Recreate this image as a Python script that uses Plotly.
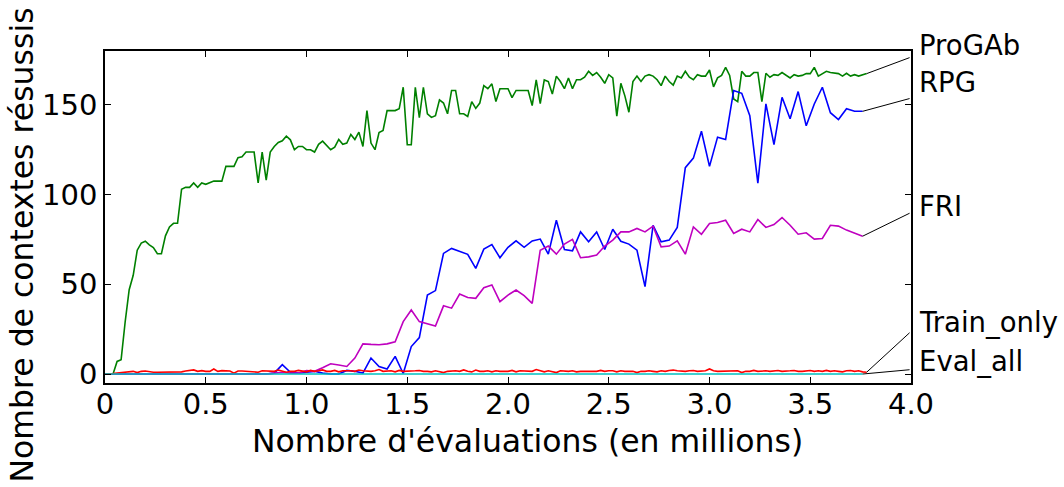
import plotly.graph_objects as go

# Evaluation step (in millions) between two saved points
STEP_DENSE = 0.02
STEP_COARSE = 0.04

progab = [
    0, 0, 0, 7, 8, 29, 47, 55, 69, 73,
    74, 72, 70.5, 67, 67, 77, 82, 84, 84, 103,
    104, 104, 106.5, 104, 106.5, 105.7, 106.5, 107.5, 107.5, 107.5,
    115.7, 115.7, 115.7, 120.5, 121, 123.7, 123.7, 123.7, 106.5, 123.7,
    108, 123.7, 126.8, 129, 130, 132.5, 130.5, 125, 126.8,
    126.8, 125, 125, 123.7, 128, 129.8, 127.4, 125, 126.4,
    130.7, 128, 128.7, 133.5, 130.7, 134.8, 126.8, 146.8, 128.7, 125,
    134.6, 135.7, 146.8, 146.8, 146.8, 147.8, 159.8, 127.8, 127.8, 159.8,
    142.8, 159.8, 145, 143, 144, 152.8, 151, 145, 158, 158,
    145, 145, 143.5, 151.8, 148, 151, 160.7, 159, 161.7,
    151.8, 159, 159, 159, 154, 158, 158, 158, 158,
    149.6, 163.9, 150.7, 163.9, 163, 156, 166, 163, 159, 165,
    159, 164, 164, 165.4, 168.7, 166.4, 168, 165.4, 162,
    166.8, 165, 143.7, 162, 155, 145.9, 163, 166, 163,
    166, 166.8, 166, 164, 160.7, 166, 163, 161, 166,
    165, 168.7, 165.4, 164, 166.8, 166, 166, 169.4, 160, 165,
    166.4, 170.9, 166.4, 153.3, 151.8, 168.7, 166, 166, 168, 168,
    151.8, 167.6, 165.4, 166.8, 166.4, 168, 166.4, 165, 166.8, 166,
    166.4, 167.4, 167.4, 170.9, 166, 167.4, 168.7, 168, 167.8, 167.4,
    166, 167.6, 166, 166.8, 166, 166.8, 167.4,
]

train_only = [
    0, 0, 0.3, 0.6, 0.8, 1, 1, 1.5, 0.8, 1.5,
    1.7, 1.2, 1, 1, 1, 1, 1, 1, 1, 1.2,
    1.7, 1.8, 2.3, 1.5, 1.9, 1.5, 1.5, 2.8, 1.5, 1.9,
    1.9, 1.7, 0.5, 1.7, 1.7, 1.5, 1.5, 1.5, 1, 1.8,
    1.8, 1.8, 1.5, 2.2, 1.5, 1, 1.5, 1.5, 2, 1.5,
    1.2, 2, 1.5, 1.8, 2.3, 1.5, 1.5, 2, 1.2, 1.8,
    2, 1.8, 1.5, 2.2, 1.8, 1.5, 1.5, 1.8, 2.5, 1.5,
    1.5, 1.8, 1.2, 2, 1.5, 1.5, 1.8, 1.8, 2, 1.5,
    1.5, 1.2, 1.8, 1.5, 0.8, 1.5, 1.8, 1.8, 1.5, 2.3,
    1.5, 1.2, 2.2, 1.5, 1.5, 1.8, 1.2, 1.8, 1.5, 1.5,
    1.5, 2, 1.2, 1.8, 1.8, 1.5, 1.5, 2.5, 1.8, 1.2,
    1.8, 1.5, 0.8, 1.8, 1.5, 1.5, 1.8, 1.2, 1.5, 1.5,
    1.8, 1.5, 1.5, 2, 1.5, 1.8, 1.8, 1.2, 1.8, 1.5,
    1.5, 1.5, 0.8, 1.5, 1.5, 1.8, 1.5, 1.2, 1.8, 1.5,
    2, 2.2, 1.8, 1.5, 1.5, 1.8, 2, 1.5, 1.8, 1.8,
    2.8, 1.8, 1.5, 1.5, 1.5, 1.8, 1.5, 1.8, 0.8, 1.5,
    1.5, 2, 1.5, 1.8, 1.8, 1.5, 1.8, 2, 1.5, 1.5,
    1.8, 2, 1.5, 1.5, 1.8, 2, 1.5, 1.8, 1.5, 2,
    1.5, 1.8, 1.5, 1.2, 1.8, 2, 1.5, 1.8, 1.2, 1,
]

rpg = [
    0, 0, 0, 0, 0, 0, 0, 0, 0, 0,
    0, 0, 0, 0, 0, 0, 0, 0, 0, 0,
    0, 0.5, 5.2, 1, 0.5, 1, 1.5, 0.5, 0, 0,
    2, 1.5, 0.5, 8.9, 4.2, 2.8, 9.8, 0.3, 15.3, 20.3,
    44, 46.5, 67.2, 70, 68.3, 66.7, 58.9, 69.6, 72.2, 64.8,
    70.6, 74.2, 70.6, 74.2, 75.2, 66.8, 85.7, 69.4, 68.7, 79.2,
    73.7, 79.2, 69.4, 80.7, 74, 72.4, 69, 48.7, 82.9, 73.7,
    74.6, 81.7, 115, 120.3, 135.3, 115.7, 132, 130.7, 158, 156.4,
    144, 106.4, 150.5, 127.8, 154.2, 142.2, 157.4, 138.3, 150.5, 159.8,
    145.6, 141.8, 147.8, 146.4, 146.4,
]

fri = [
    0, 0, 0, 0, 0, 0, 0, 0, 0, 0,
    0, 0, 0, 0, 0, 0, 0, 0, 0, 0,
    0, 0.5, 1, 0.5, 0.5, 2, 1.5, 3.5, 5.7, 5,
    4.2, 8.9, 16.8, 16.5, 16.3, 16.8, 18, 29.2, 35.7, 29.2,
    28, 26.8, 38, 36.7, 44.6, 42.6, 42.2, 48.1, 49.6, 40.3,
    44, 46.8, 43.7, 39.4, 69, 71.3, 66.8, 72.4, 75, 64.8,
    65.3, 66.3, 71.3, 74.6, 79.2, 79.2, 81.1, 79.2, 82.4, 70.9,
    71.3, 74.2, 66.8, 82, 77.9, 83.9, 84.4, 85.7, 78.3, 80.7,
    79.2, 86.1, 81.7, 83.3, 87.2, 82.9, 77.9, 78.7, 75.2, 75.5,
    82.9, 82.4, 80.2, 78.7, 76.8,
]

eval_all = [0] * 95

x_dense = [round(i * STEP_DENSE, 2) for i in range(len(progab))]
x_coarse = [round(i * STEP_COARSE, 2) for i in range(len(rpg))]

x_ticks = [0, 0.5, 1.0, 1.5, 2.0, 2.5, 3.0, 3.5, 4.0]
x_ticktext = ['0', '0.5', '1.0', '1.5', '2.0', '2.5', '3.0', '3.5', '4.0']
y_ticks = [0, 50, 100, 150]

FONT = 'DejaVu Sans'

fig = go.Figure()
series = [
    ('ProGAb', x_dense, progab, '#008000'),
    ('RPG', x_coarse, rpg, '#0000ff'),
    ('FRI', x_coarse, fri, '#bf00bf'),
    ('Train_only', x_dense, train_only, '#ff0000'),
    ('Eval_all', x_coarse, eval_all, '#00bfbf'),
]
for name, xs, ys, col in series:
    fig.add_trace(go.Scatter(x=xs, y=ys, mode='lines', name=name,
                             line=dict(color=col, width=1.6)))

# labels on the right with a leader line from the last point of each curve
labels = [
    ('ProGAb', x_dense[-1], progab[-1], 176.3, 1.018),
    ('RPG', x_coarse[-1], rpg[-1], 153.5, 0.907),
    ('FRI', x_coarse[-1], fri[-1], 89.6, 0.533),
    ('Train_only', x_dense[-1], train_only[-1], 23, 0.181),
    ('Eval_all', x_coarse[-1], eval_all[-1], 2.4, 0.066),
]
for text, x0, y0, y1, ylab in labels:
    fig.add_shape(type='line', x0=x0, y0=y0, x1=3.993, y1=y1, xref='x', yref='y',
                  line=dict(color='black', width=1))
    fig.add_annotation(text=text, x=1.007, y=ylab, xref='paper', yref='paper',
                       xanchor='left', yanchor='middle', showarrow=False,
                       font=dict(size=27.5, family=FONT, color='black'))

fig.add_annotation(text="Nombre d'évaluations (en millions)", x=0.5236, y=-0.175,
                   xref='paper', yref='paper', xanchor='center', yanchor='middle',
                   showarrow=False, font=dict(size=31.5, family=FONT, color='black'))
fig.add_annotation(text='Nombre de contextes résussis', x=-0.103, y=0.417,
                   xref='paper', yref='paper', xanchor='center', yanchor='middle',
                   textangle=-90, showarrow=False,
                   font=dict(size=31.5, family=FONT, color='black'))

fig.update_xaxes(range=[0, 4], tickvals=x_ticks, ticktext=x_ticktext,
                 ticks='inside', ticklen=6, tickcolor='black', tickwidth=1,
                 showline=True, linecolor='black', linewidth=1.5, mirror='allticks',
                 showgrid=False, zeroline=False, ticklabelstandoff=-6,
                 tickfont=dict(size=29, family=FONT, color='black'))
fig.update_yaxes(range=[-5, 180], tickvals=y_ticks,
                 ticks='inside', ticklen=6, tickcolor='black', tickwidth=1,
                 showline=True, linecolor='black', linewidth=1.5, mirror='allticks',
                 showgrid=False, zeroline=False,
                 tickfont=dict(size=29, family=FONT, color='black'))

fig.update_layout(width=1064, height=487, showlegend=False,
                  plot_bgcolor='white', paper_bgcolor='white',
                  font=dict(family=FONT, color='black'),
                  margin=dict(l=105, r=153, t=51, b=104))

# the page body has a default margin that would shift the figure
fig.write_html("out.html", config={'displayModeBar': False},
               post_script="document.body.style.margin='0';")
